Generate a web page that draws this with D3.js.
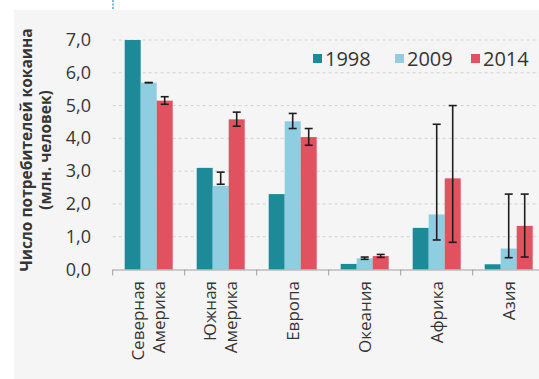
<!DOCTYPE html>
<html>
<head>
<meta charset="utf-8">
<script src="https://cdn.jsdelivr.net/npm/d3@7"></script>
<style>
  html, body { margin: 0; padding: 0; background: #ffffff; }
  svg { display: block; }
  text { font-family: "Open Sans", "DejaVu Sans", sans-serif; fill: #353535; }
</style>
</head>
<body>
<svg id="chart" width="539" height="379"></svg>
<script>
// Regions (each label line separated by "|")
const regions = ["Северная|Америка", "Южная|Америка", "Европа", "Океания", "Африка", "Азия"];
const years = ["1998", "2009", "2014"];
const colors = ["#1d8b97", "#8fcde0", "#e0525f"];

// Users of cocaine, millions of people
const v1998 = [7.0, 3.1, 2.3, 0.17, 1.27, 0.16];
const v2009 = [5.7, 2.55, 4.52, 0.34, 1.68, 0.64];
const v2014 = [5.15, 4.58, 4.04, 0.41, 2.78, 1.33];

// Uncertainty ranges (low / high)
const lo2009 = [5.7, 2.6, 4.3, 0.31, 0.9, 0.36];
const hi2009 = [5.7, 2.97, 4.76, 0.38, 4.43, 2.3];
const lo2014 = [5.04, 4.37, 3.79, 0.37, 0.83, 0.38];
const hi2014 = [5.27, 4.8, 4.3, 0.46, 5.0, 2.3];

const yTicks = [0, 1, 2, 3, 4, 5, 6, 7];
const yTitle = ["Число потребителей кокаина", "(млн. человек)"];

const svg = d3.select("#chart");

// light panel behind the chart
svg.append("rect").attr("x", 14).attr("y", 10).attr("width", 525).attr("height", 369)
  .attr("fill", "#f5f5f5");
// small dotted marker at the top
svg.append("line").attr("x1", 113).attr("x2", 113).attr("y1", 0).attr("y2", 9)
  .attr("stroke", "#4aa6cc").attr("stroke-width", 1.5).attr("stroke-dasharray", "2,1.5");

const left = 112.7, band = 72;
const x0 = d3.scaleBand().domain(regions).range([left, left + band * regions.length]).padding(0);
const x1 = d3.scaleBand().domain(years).range([0, x0.bandwidth()]).paddingInner(0).paddingOuter(0.75);
const y = d3.scaleLinear().domain([0, 7]).range([269.5, 40]);

// dashed gridlines
svg.append("g").selectAll("line").data(yTicks.filter(d => d > 0)).join("line")
  .attr("x1", left).attr("x2", 539)
  .attr("y1", d => y(d)).attr("y2", d => y(d))
  .attr("stroke", "#d2d2d2").attr("stroke-width", 1).attr("stroke-dasharray", "3,3");

// y tick labels
svg.append("g").selectAll("text").data(yTicks).join("text")
  .attr("x", 91).attr("y", d => y(d) + 6)
  .attr("text-anchor", "end").attr("font-size", 18)
  .text(d => d3.format(".1f")(d).replace(".", ","));

// y title (two lines, rotated)
const yt = svg.append("text").attr("transform", "translate(0,150) rotate(-90)")
  .attr("text-anchor", "middle").attr("font-weight", "bold").attr("font-size", 15.5);
yt.selectAll("tspan").data(yTitle).join("tspan")
  .attr("x", 0).attr("y", (d, i) => 32 + i * 19).text(d => d);

// bars
const series = [v1998, v2009, v2014];
const gBars = svg.append("g");
series.forEach((vals, si) => {
  gBars.append("g").selectAll("rect").data(vals).join("rect")
    .attr("x", (d, i) => x0(regions[i]) + x1(years[si]))
    .attr("width", x1.bandwidth())
    .attr("y", d => y(d))
    .attr("height", d => y(0) - y(d))
    .attr("fill", colors[si]);
});

// error bars
const errs = [[1, lo2009, hi2009], [2, lo2014, hi2014]];
const gErr = svg.append("g").attr("stroke", "#1e1e1e").attr("stroke-width", 1.6);
errs.forEach(([si, lo, hi]) => {
  lo.forEach((l, i) => {
    const cx = x0(regions[i]) + x1(years[si]) + x1.bandwidth() / 2;
    const h = hi[i];
    gErr.append("line").attr("x1", cx).attr("x2", cx).attr("y1", y(l)).attr("y2", y(h));
    gErr.append("line").attr("x1", cx - 4).attr("x2", cx + 4).attr("y1", y(l)).attr("y2", y(l));
    gErr.append("line").attr("x1", cx - 4).attr("x2", cx + 4).attr("y1", y(h)).attr("y2", y(h));
  });
});

// x axis line and category ticks
const xa = svg.append("g").attr("stroke", "#a0a0a0").attr("stroke-width", 1);
xa.append("line").attr("x1", left).attr("x2", 539).attr("y1", y(0) + 0.5).attr("y2", y(0) + 0.5);
xa.selectAll("line.t").data(regions).join("line").attr("class", "t")
  .attr("x1", d => x0(d)).attr("x2", d => x0(d))
  .attr("y1", y(0)).attr("y2", y(0) + 6);

// x labels, rotated, reading bottom-to-top
regions.forEach(r => {
  const lines = r.split("|");
  const cx = x0(r) + x0.bandwidth() / 2;
  const t = svg.append("text")
    .attr("transform", `translate(${cx},281) rotate(-90)`)
    .attr("text-anchor", "end").attr("font-size", 17);
  lines.forEach((ln, k) => {
    t.append("tspan").attr("x", 0)
      .attr("y", (k - (lines.length - 1) / 2) * 20.5 + 6)
      .text(ln);
  });
});

// legend
const legX = [313, 395, 471];
const lg = svg.append("g");
years.forEach((yr, i) => {
  lg.append("rect").attr("x", legX[i]).attr("y", 54).attr("width", 9).attr("height", 9).attr("fill", colors[i]);
  lg.append("text").attr("x", legX[i] + 12).attr("y", 66).attr("font-size", 20).text(yr);
});
</script>
</body>
</html>
